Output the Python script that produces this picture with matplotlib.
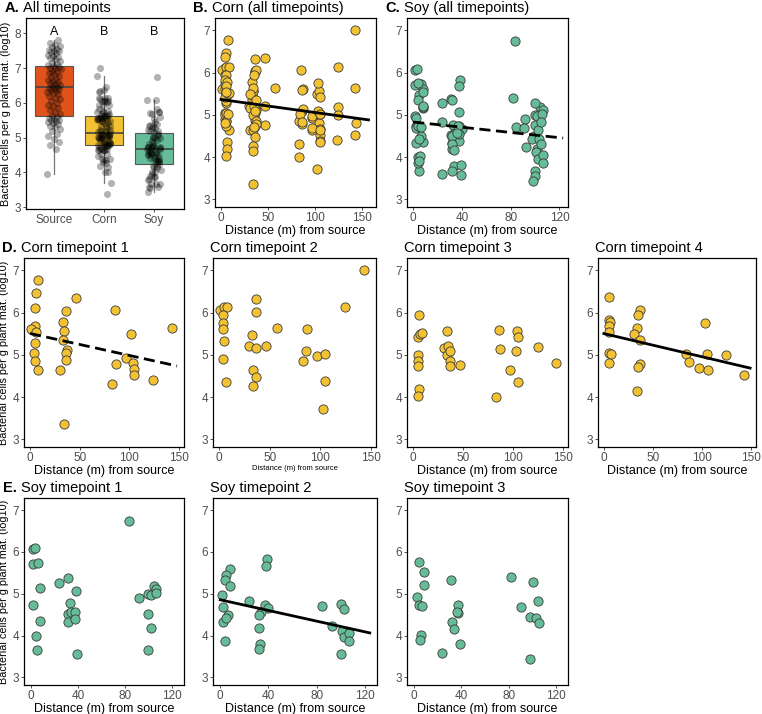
import numpy as np
import matplotlib
matplotlib.use('Agg')
import matplotlib.pyplot as plt

plt.rcParams['font.family'] = ['Liberation Sans', 'DejaVu Sans']

# Corn, per timepoint (distance in m, log10 cells per g)
corn_t1_x = [7.6, 5.6, 4.6, 4.6, 1.3, 5.6, 5.0, 4.0, 5.0, 8.3, 46.5, 36.5, 33.0, 34.0, 33.0, 37.0, 36.5, 36.5, 30.5, 34.0,
             85.6, 102.0, 142.7, 96.6, 86.3, 83.0, 104.0, 105.0, 105.0, 124.0]
corn_t1_y = [6.76, 6.46, 6.10, 5.69, 5.61, 5.53, 5.27, 5.05, 4.86, 4.65, 6.34, 6.04, 5.77, 5.56, 5.35, 5.11, 5.05, 4.87, 4.64, 3.37,
             6.06, 5.49, 5.63, 4.92, 4.78, 4.31, 4.80, 4.67, 4.52, 4.40]
corn_t2_x = [1, 5, 8, 4, 4, 4.3, 5, 4.3, 6.5, 36, 36.7, 32.8, 30, 36.7, 46.5, 57.3, 34, 36, 33.7,
             86.8, 86, 82.9, 96.6, 105, 105, 102.5, 124.8, 143]
corn_t2_y = [6.06, 6.14, 6.14, 5.94, 5.75, 5.60, 5.33, 4.91, 4.36, 6.31, 6.02, 5.48, 5.22, 5.16, 5.22, 5.64, 4.64, 4.47, 4.26,
             5.62, 5.09, 4.85, 4.98, 5.03, 4.39, 3.71, 6.14, 7.0]
corn_t3_x = [5.7, 4.7, 7.3, 9, 4.7, 5.3, 5.3, 6, 5.3, 34, 30.7, 34.7, 34, 36.7, 37.3, 36.7, 46.7,
             86, 87, 83.3, 104.3, 105.3, 103, 97.3, 105.3, 125, 143.3]
corn_t3_y = [5.94, 5.43, 5.50, 5.51, 5.0, 4.85, 4.73, 4.20, 4.02, 5.56, 5.15, 5.20, 5.0, 5.08, 4.85, 4.73, 4.77,
             5.58, 5.14, 4.00, 5.57, 5.41, 5.09, 4.65, 4.35, 5.19, 4.81]
corn_t4_x = [4.7, 4.7, 6, 5.3, 5.3, 5, 7.3, 4.7, 37, 34.7, 34, 30.7, 37, 37.3, 35, 34,
             103.3, 84, 86.3, 97.3, 105, 105.7, 124.7, 143]
corn_t4_y = [6.36, 5.83, 5.77, 5.68, 5.55, 5.04, 5.02, 4.80, 6.06, 5.94, 5.63, 5.49, 5.35, 4.78, 4.71, 4.15,
             5.75, 5.02, 4.83, 4.68, 5.02, 4.64, 5.0, 4.53]

# Soy, per timepoint
soy_t1_x = [1.4, 3.6, 1.4, 6.1, 7.8, 2, 7.8, 4.2, 5, 23.4, 31, 38, 32.7, 31.3, 34, 37.4, 31.5, 37.4, 39,
            83.2, 91.8, 99.6, 101.6, 104.4, 106.6, 106, 99, 101.9, 99.6]
soy_t1_y = [6.07, 6.09, 5.71, 5.73, 5.15, 4.73, 4.36, 4.0, 3.66, 5.27, 5.37, 5.07, 4.77, 4.52, 4.56, 4.57, 4.33, 4.39, 3.57,
            6.74, 4.90, 5.0, 4.98, 5.18, 5.12, 5.01, 4.51, 4.19, 3.66]
soy_t2_x = [8.2, 4.8, 3.7, 8.2, 1.4, 2, 2.5, 6.5, 4.8, 3.7, 23.9, 38.5, 38, 37.4, 39.9, 34, 32, 32, 33.2, 31.8,
            84, 92.5, 100.3, 102.3, 100.6, 102.6, 106.8, 106.8, 99.8]
soy_t2_y = [5.60, 5.46, 5.34, 5.18, 4.98, 4.68, 4.33, 4.50, 4.43, 3.87, 4.82, 5.82, 5.67, 4.74, 4.66, 4.57, 4.49, 4.18, 3.79, 3.68,
            4.71, 4.24, 4.75, 4.63, 4.12, 3.96, 4.06, 3.86, 3.55]
soy_t3_x = [4.1, 8.2, 8.2, 2.5, 3.8, 6.8, 5.5, 4.9, 23.8, 31.5, 36.7, 37.3, 36.4, 32.3, 33.4, 38.9,
            82.2, 100.3, 90.7, 97.5, 103.3, 105.2, 104.7, 98.1]
soy_t3_y = [5.75, 5.53, 5.21, 4.92, 4.73, 4.71, 4.02, 3.90, 3.59, 5.34, 4.73, 4.55, 4.56, 4.32, 4.16, 3.81,
            5.40, 5.29, 4.68, 4.44, 4.42, 4.31, 4.83, 3.44]

# Source samples (panel A)
source_y = [3.95, 4.68, 4.80, 4.88, 4.95, 5.05, 5.12, 5.20, 5.25, 5.30, 5.35, 5.38, 5.42, 5.45, 5.48, 5.50, 5.52, 5.55, 5.57, 5.59,
            5.62, 5.68, 5.75, 5.80, 5.85, 5.90, 5.95, 6.00, 6.05, 6.10, 6.15, 6.20, 6.25, 6.28, 6.32, 6.35, 6.38, 6.40, 6.42, 6.44,
            6.46, 6.48, 6.50, 6.53, 6.56, 6.60, 6.63, 6.66, 6.70, 6.74, 6.78, 6.82, 6.86, 6.90, 6.93, 6.96, 6.99, 7.01, 7.03, 7.05,
            7.08, 7.12, 7.16, 7.20, 7.25, 7.28, 7.32, 7.35, 7.38, 7.42, 7.45, 7.48, 7.50, 7.53, 7.56, 7.60, 7.63, 7.67, 7.72, 7.80]

groups = ['Source', 'Corn', 'Soy']
group_letters = ['A', 'B', 'B']

corn_x = corn_t1_x + corn_t2_x + corn_t3_x + corn_t4_x
corn_y = corn_t1_y + corn_t2_y + corn_t3_y + corn_t4_y
soy_x = soy_t1_x + soy_t2_x + soy_t3_x
soy_y = soy_t1_y + soy_t2_y + soy_t3_y

source_col = '#E0531B'
corn_col = '#F3C232'
soy_col = '#66BC98'
tick_grey = '#4D4D4D'
ylab = 'Bacterial cells per g plant mat. (log10)'
xlab = 'Distance (m) from source'

W, H = 762, 714
fig = plt.figure(figsize=(W / 100, H / 100), dpi=100)


def px_axes(l, t, r, b):
    return fig.add_axes([l / W, 1 - b / H, (r - l) / W, (b - t) / H])


def style(ax):
    for s in ax.spines.values():
        s.set_color('black')
        s.set_linewidth(0.9)
    ax.tick_params(labelsize=8.5, labelcolor=tick_grey, color='#333333', length=2.2, width=0.6, pad=1.5)


def title(ax, text, letter=None):
    ax.annotate(text, xy=(0, 1), xycoords='axes fraction', xytext=(-2, 4.5), textcoords='offset points',
                ha='left', va='baseline', fontsize=10.5)
    if letter:
        ax.annotate(letter, xy=(0, 1), xycoords='axes fraction', xytext=(-5, 4.5), textcoords='offset points',
                    ha='right', va='baseline', fontsize=10.5, fontweight='bold')


def y_label(ax, x_px):
    # shared left-side label, placed at a fixed pixel column
    pos = ax.get_position()
    fig.text(x_px / W, pos.y0 + pos.height / 2, ylab, rotation=90, ha='center', va='center', fontsize=7.8)


def scatter_panel(ax, x, y, col, xt, xlim, fit=None, xend=None, small_xlabel=False):
    ax.scatter(x, y, s=44, c=col, edgecolors='#3a3a3a', linewidths=0.6, zorder=3)
    if fit is not None:
        k, m = np.polyfit(x, y, 1)
        xs = np.array([0, xend])
        ax.plot(xs, k * xs + m, color='black', lw=2.0, ls=(0, (4, 2)) if fit == 'dashed' else '-', zorder=4)
    ax.set_xlim(xlim)
    ax.set_ylim(2.82, 7.29)
    ax.set_xticks(xt)
    ax.set_yticks([3, 4, 5, 6, 7])
    ax.set_xlabel(xlab, fontsize=5.5 if small_xlabel else 9, labelpad=0.3)
    style(ax)


# A: boxplot of all timepoints
axA = px_axes(26, 18, 184, 209)
box_data = [source_y, corn_y, soy_y]
bp = axA.boxplot(box_data, positions=[1, 2, 3], widths=0.76, patch_artist=True, showfliers=False,
                 whis=1.5, medianprops=dict(color='#444444', lw=1.2),
                 whiskerprops=dict(color='#777777', lw=0.9), capprops=dict(lw=0))
for patch, col in zip(bp['boxes'], [source_col, corn_col, soy_col]):
    patch.set_facecolor(col)
    patch.set_edgecolor('#555555')
    patch.set_linewidth(0.8)
for i, vals in enumerate(box_data):
    n = len(vals)
    jit = ((np.arange(n) * 0.6180339887) % 1 - 0.5) * 0.27
    axA.scatter(i + 1 + jit, vals, s=26, color='black', alpha=0.3, linewidths=0, zorder=3)
    axA.text(i + 1, 8.05, group_letters[i], ha='center', va='center', fontsize=9)
axA.set_xlim(0.44, 3.6)
axA.set_ylim(2.95, 8.44)
axA.set_xticks([1, 2, 3])
axA.set_xticklabels(groups)
axA.set_yticks([3, 4, 5, 6, 7, 8])
style(axA)
title(axA, 'All timepoints', 'A.')
y_label(axA, 6)

# B, C: all timepoints
axB = px_axes(215, 18, 376, 207)
scatter_panel(axB, corn_x, corn_y, corn_col, [0, 50, 100, 150], (-6.4, 165), 'solid', 157)
title(axB, 'Corn (all timepoints)', 'B.')

axC = px_axes(407, 18, 568, 207)
scatter_panel(axC, soy_x, soy_y, soy_col, [0, 40, 80, 120], (-5, 127), 'dashed', 123)
title(axC, 'Soy (all timepoints)', 'C.')

# D row: corn per timepoint
corn_sets = [(corn_t1_x, corn_t1_y), (corn_t2_x, corn_t2_y), (corn_t3_x, corn_t3_y), (corn_t4_x, corn_t4_y)]
corn_fits = ['dashed', None, None, 'solid']
corn_ends = [148, None, None, 149]
d_cols = [(24, 184), (213, 376), (407, 568), (598, 756)]
for i, (xx, yy) in enumerate(corn_sets):
    ax = px_axes(d_cols[i][0], 258, d_cols[i][1], 447)
    scatter_panel(ax, xx, yy, corn_col, [0, 50, 100, 150], (-6, 155), corn_fits[i], corn_ends[i],
                  small_xlabel=(i == 1))
    title(ax, 'Corn timepoint %d' % (i + 1), 'D.' if i == 0 else None)
    if i == 0:
        y_label(ax, 4.5)

# E row: soy per timepoint
soy_sets = [(soy_t1_x, soy_t1_y), (soy_t2_x, soy_t2_y), (soy_t3_x, soy_t3_y)]
soy_fits = [None, 'solid', None]
soy_ends = [None, 124, None]
e_cols = [(24, 184), (213, 377), (407, 568)]
for i, (xx, yy) in enumerate(soy_sets):
    ax = px_axes(e_cols[i][0], 498, e_cols[i][1], 685)
    scatter_panel(ax, xx, yy, soy_col, [0, 40, 80, 120], (-6, 130), soy_fits[i], soy_ends[i])
    title(ax, 'Soy timepoint %d' % (i + 1), 'E.' if i == 0 else None)
    if i == 0:
        y_label(ax, 4.5)

fig.savefig('out.png', dpi=100)
